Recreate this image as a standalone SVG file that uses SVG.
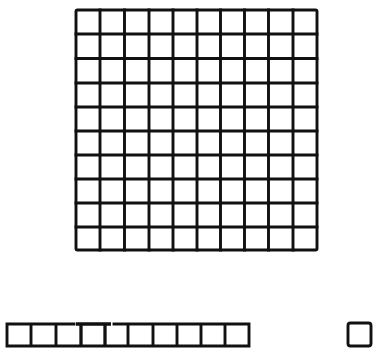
<svg xmlns="http://www.w3.org/2000/svg" width="375" height="349" viewBox="0 0 375 349">
<style>
.ln{fill:none;stroke:#111;stroke-width:2.9;stroke-linecap:square;stroke-linejoin:round}
.thk{fill:none;stroke:#111;stroke-width:3.3}
</style>
<rect width="375" height="349" fill="#fff"/>
<g id="grid">
<rect class="ln" x="76" y="10" width="241" height="240" rx="1.5"/>
<path class="ln" d="M100,10V250M124.5,10V250M149,10V250M173,10V250M197,10V250M220.5,10V250M244.5,10V250M268.5,10V250M293,10V250
M76,34H317M76,58.5H317M76,83H317M76,107H317M76,131H317M76,155H317M76,179H317M76,203H317M76,227H317"/>
</g>
<g id="row">
<path class="ln" d="M7,324H74M114,324H249M7,346H249M7,324V346M249,324V346M31,324V346M56,324V346M128,324V346M153,324V346M177,324V346M201,324V346M225,324V346"/>
<path class="thk" d="M76,324H111M81,324V346M105,324V346"/>
</g>
<g id="single">
<rect class="ln" x="348" y="323" width="23" height="23" rx="2.5"/>
</g>
</svg>
